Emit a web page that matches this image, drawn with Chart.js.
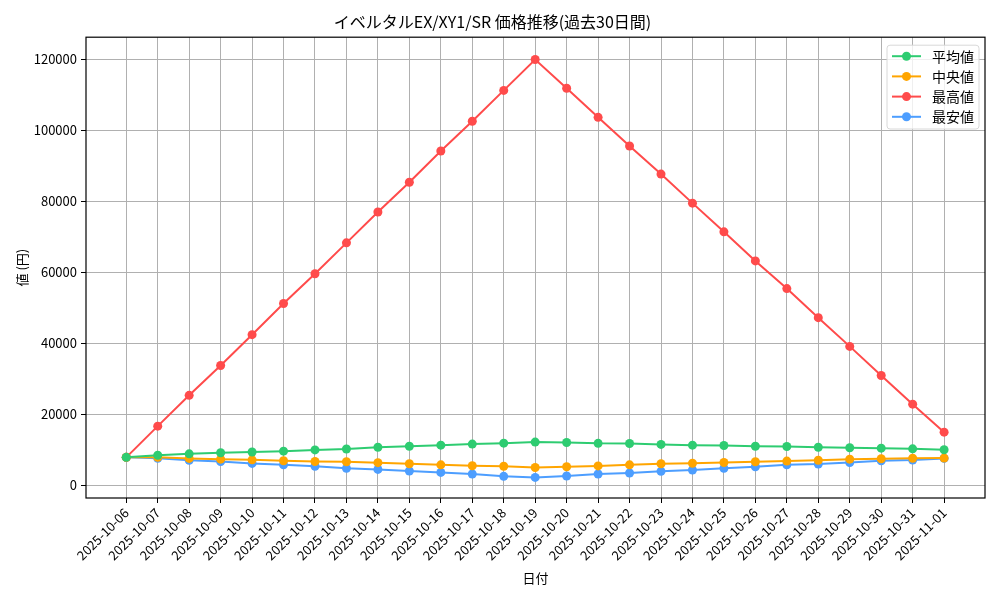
<!DOCTYPE html>
<html>
<head>
<meta charset="utf-8">
<script src="https://cdn.jsdelivr.net/npm/chart.js@4"></script>
<style>
  html, body { margin: 0; padding: 0; background: #fff; }
  #wrap { width: 1000px; height: 600px; }
</style>
</head>
<body>
<div id="wrap"><canvas id="c" width="1000" height="600"></canvas></div>
<script>
// Price history
const dates = [
  '2025-10-06', '2025-10-07', '2025-10-08', '2025-10-09', '2025-10-10', '2025-10-11',
  '2025-10-12', '2025-10-13', '2025-10-14', '2025-10-15', '2025-10-16', '2025-10-17',
  '2025-10-18', '2025-10-19', '2025-10-20', '2025-10-21', '2025-10-22', '2025-10-23',
  '2025-10-24', '2025-10-25', '2025-10-26', '2025-10-27', '2025-10-28', '2025-10-29',
  '2025-10-30', '2025-10-31', '2025-11-01'
];
const avgPrice = [
  7800, 8400, 8800, 9100, 9300, 9550, 9900, 10150, 10650, 10950, 11250, 11550,
  11800, 12100, 12000, 11750, 11700, 11450, 11250, 11150, 10950, 10850, 10650, 10500,
  10400, 10200, 9950
];
const medianPrice = [
  7800, 7800, 7500, 7300, 7100, 6850, 6650, 6550, 6300, 6000, 5700, 5450,
  5300, 4950, 5150, 5400, 5700, 6000, 6150, 6350, 6550, 6750, 7000, 7300,
  7400, 7550, 7600
];
const maxPrice = [
  7800, 16600, 25300, 33700, 42400, 51200, 59600, 68300, 77000, 85400, 94200, 102600,
  111300, 120000, 111900, 103700, 95600, 87700, 79500, 71400, 63200, 55400, 47200, 39100,
  30900, 22800, 14900
];
const minPrice = [
  7800, 7550, 7000, 6650, 6100, 5700, 5300, 4700, 4400, 3950, 3550, 3100,
  2450, 2150, 2550, 3100, 3400, 3850, 4250, 4700, 5150, 5700, 5900, 6350,
  6850, 7050, 7500
];
const yTicks = [0, 20000, 40000, 60000, 80000, 100000, 120000];

const colors = {
  avg: '#2ecc71',
  median: '#ffa500',
  max: '#ff4b4b',
  min: '#4d9eff'
};

const FONT = "'Noto Sans CJK JP', sans-serif";

function series(label, values, color) {
  return {
    label: label,
    data: values.map((v, i) => ({ x: i, y: v })),
    borderColor: color,
    backgroundColor: color,
    borderWidth: 2,
    pointRadius: 4.5,
    pointHoverRadius: 4.5,
    pointBorderWidth: 0,
    tension: 0
  };
}

// frame round the plot area, like matplotlib's spines
const framePlugin = {
  id: 'frame',
  afterDraw(chart) {
    const { ctx, chartArea: a } = chart;
    ctx.save();
    ctx.strokeStyle = '#000';
    ctx.lineWidth = 1.2;
    ctx.strokeRect(a.left, a.top, a.right - a.left, a.bottom - a.top);
    ctx.restore();
  }
};

// legend box inside the upper right corner
const innerLegend = {
  id: 'innerLegend',
  afterDraw(chart) {
    const { ctx, chartArea: a } = chart;
    const sets = chart.data.datasets;
    const w = 92, rowH = 20.2;
    const x = a.right - 6 - w, y = a.top + 8;
    const h = sets.length * rowH + 3;
    ctx.save();
    ctx.fillStyle = 'rgba(255,255,255,0.8)';
    ctx.strokeStyle = '#d8d8d8';
    ctx.lineWidth = 1;
    ctx.beginPath();
    ctx.roundRect(x, y, w, h, 3);
    ctx.fill();
    ctx.stroke();
    ctx.font = '14px ' + FONT;
    ctx.textBaseline = 'middle';
    sets.forEach((ds, i) => {
      const cy = y + 11 + i * rowH;
      ctx.strokeStyle = ds.borderColor;
      ctx.lineWidth = 2;
      ctx.beginPath();
      ctx.moveTo(x + 5, cy);
      ctx.lineTo(x + 34, cy);
      ctx.stroke();
      ctx.fillStyle = ds.borderColor;
      ctx.beginPath();
      ctx.arc(x + 19.5, cy, 4.5, 0, Math.PI * 2);
      ctx.fill();
      ctx.fillStyle = '#000';
      ctx.fillText(ds.label, x + 45, cy);
    });
    ctx.restore();
  }
};

new Chart(document.getElementById('c'), {
  type: 'line',
  data: {
    datasets: [
      series('平均値', avgPrice, colors.avg),
      series('中央値', medianPrice, colors.median),
      series('最高値', maxPrice, colors.max),
      series('最安値', minPrice, colors.min)
    ]
  },
  options: {
    responsive: false,
    animation: false,
    layout: { padding: { left: 0, right: 15, top: 0, bottom: 0 } },
    plugins: {
      legend: { display: false },
      tooltip: { enabled: false },
      title: {
        display: true,
        text: 'イベルタルEX/XY1/SR 価格推移(過去30日間)',
        color: '#000',
        font: { family: FONT, size: 16, weight: 'normal' },
        padding: { top: 12, bottom: 6 }
      }
    },
    scales: {
      x: {
        type: 'linear',
        min: -1.28,
        max: dates.length - 1 + 1.3,
        afterBuildTicks(scale) {
          scale.ticks = dates.map((_, i) => ({ value: i }));
        },
        afterFit(scale) { scale.height = 102; },
        border: { display: false },
        grid: { color: '#b0b0b0', lineWidth: 1, tickColor: '#000', tickLength: 5 },
        ticks: {
          autoSkip: false,
          minRotation: 45,
          maxRotation: 45,
          padding: 2,
          color: '#000',
          font: { family: FONT, size: 13 },
          callback: (v) => dates[v]
        },
        title: {
          display: true,
          text: '日付',
          color: '#000',
          font: { family: FONT, size: 13 },
          padding: { top: 0, bottom: 14 }
        }
      },
      y: {
        min: -3660,
        max: 126300,
        afterBuildTicks(scale) {
          scale.ticks = yTicks.map(v => ({ value: v }));
        },
        afterFit(scale) { scale.width = 86; },
        border: { display: false },
        grid: { color: '#b0b0b0', lineWidth: 1, tickColor: '#000', tickLength: 5 },
        ticks: {
          padding: 4,
          color: '#000',
          font: { family: FONT, size: 13 },
          callback: (v) => String(v)
        },
        title: {
          display: true,
          text: '値 (円)',
          color: '#000',
          font: { family: FONT, size: 13 },
          padding: { top: 14, bottom: 0 }
        }
      }
    }
  },
  plugins: [framePlugin, innerLegend]
});
</script>
</body>
</html>
